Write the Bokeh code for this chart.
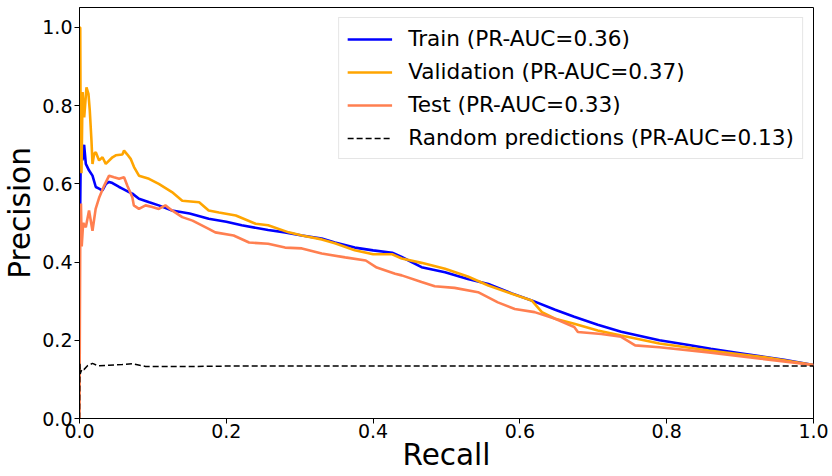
from bokeh.plotting import figure
from bokeh.models import Range1d, FixedTicker, Legend, LegendItem
from bokeh.embed import file_html
from bokeh.resources import INLINE

# ---------------- data ----------------
train_recall = [0.0, 0.001, 0.0018, 0.004, 0.0063, 0.0086, 0.0131, 0.0177, 0.0222, 0.0267,
                0.0313, 0.036, 0.0403, 0.0449, 0.054, 0.0584, 0.0675, 0.072, 0.081, 0.095,
                0.108, 0.126, 0.15, 0.176, 0.2, 0.221, 0.257, 0.28, 0.303, 0.33, 0.348,
                0.375, 0.40, 0.426, 0.439, 0.466, 0.498, 0.529, 0.557, 0.589, 0.616, 0.648,
                0.674, 0.706, 0.738, 0.79, 0.83, 0.86, 0.9, 0.928, 0.96, 1.0]
train_precision = [0.50, 0.55, 0.702, 0.66, 0.70, 0.651, 0.634, 0.621, 0.592, 0.588,
                   0.583, 0.60, 0.605, 0.602, 0.592, 0.588, 0.579, 0.575, 0.562, 0.553,
                   0.545, 0.532, 0.524, 0.511, 0.503, 0.494, 0.482, 0.476, 0.468, 0.46, 0.45,
                   0.437, 0.43, 0.424, 0.413, 0.387, 0.374, 0.357, 0.344, 0.32, 0.302, 0.278,
                   0.26, 0.24, 0.222, 0.2, 0.188, 0.178, 0.167, 0.159, 0.15, 0.137]

val_recall = [0.0, 0.001, 0.0015, 0.0027, 0.0042, 0.0064, 0.0095, 0.0122, 0.014, 0.0163,
              0.0177, 0.02, 0.0222, 0.0267, 0.0313, 0.0358, 0.0449, 0.0494, 0.0584, 0.0607,
              0.0652, 0.0697, 0.0743, 0.081, 0.0947, 0.108, 0.126, 0.14, 0.163, 0.176, 0.19,
              0.213, 0.24, 0.257, 0.285, 0.303, 0.33, 0.348, 0.375, 0.40, 0.426, 0.439,
              0.466, 0.498, 0.529, 0.557, 0.589, 0.616, 0.63, 0.648, 0.674, 0.706, 0.738,
              0.79, 0.857, 0.928, 1.0]
val_precision = [1.0, 1.0, 0.75, 0.627, 0.835, 0.77, 0.847, 0.83, 0.788, 0.711,
                 0.651, 0.677, 0.681, 0.66, 0.668, 0.651, 0.668, 0.673, 0.675, 0.685,
                 0.675, 0.664, 0.643, 0.621, 0.613, 0.60, 0.579, 0.557, 0.553, 0.532, 0.527,
                 0.519, 0.498, 0.494, 0.476, 0.468, 0.458, 0.448, 0.43, 0.42, 0.42, 0.409,
                 0.398, 0.383, 0.363, 0.34, 0.319, 0.302, 0.272, 0.255, 0.242, 0.225, 0.212,
                 0.192, 0.174, 0.158, 0.137]

test_recall = [0.0, 0.0005, 0.001, 0.002, 0.003, 0.005, 0.0086, 0.013, 0.0177, 0.022,
               0.027, 0.0335, 0.0403, 0.047, 0.054, 0.0607, 0.0652, 0.072, 0.074, 0.081,
               0.09, 0.0992, 0.108, 0.117, 0.126, 0.14, 0.154, 0.176, 0.185, 0.21, 0.231,
               0.257, 0.28, 0.303, 0.33, 0.362, 0.39, 0.405, 0.43, 0.439, 0.466, 0.484,
               0.511, 0.543, 0.57, 0.593, 0.62, 0.648, 0.674, 0.679, 0.711, 0.738, 0.757,
               0.79, 0.857, 0.928, 1.0]
test_precision = [0.0, 0.25, 0.45, 0.55, 0.44, 0.50, 0.489, 0.532, 0.48, 0.536,
                  0.566, 0.595, 0.621, 0.617, 0.613, 0.617, 0.595, 0.566, 0.545, 0.536,
                  0.545, 0.541, 0.536, 0.545, 0.532, 0.515, 0.506, 0.485, 0.476, 0.468, 0.45,
                  0.447, 0.437, 0.435, 0.422, 0.412, 0.404, 0.386, 0.37, 0.366, 0.349, 0.338,
                  0.334, 0.323, 0.297, 0.28, 0.272, 0.255, 0.234, 0.221, 0.216, 0.209, 0.187,
                  0.182, 0.169, 0.153, 0.137]

random_recall = [0.0, 0.0005, 0.001, 0.002, 0.004, 0.006, 0.0109, 0.0177, 0.025, 0.04,
                 0.0584, 0.072, 0.09, 0.11, 0.15, 0.2, 0.3, 0.5, 0.7, 0.9, 1.0]
random_precision = [0.0, 0.14, 0.114, 0.12, 0.127, 0.125, 0.135, 0.141, 0.135, 0.136,
                    0.138, 0.140, 0.133, 0.133, 0.133, 0.134, 0.134, 0.134, 0.134, 0.134, 0.134]

labels = ["Train (PR-AUC=0.36)", "Validation (PR-AUC=0.37)",
          "Test (PR-AUC=0.33)", "Random predictions (PR-AUC=0.13)"]
x_ticks = [0.0, 0.2, 0.4, 0.6, 0.8, 1.0]
y_ticks = [0.0, 0.2, 0.4, 0.6, 0.8, 1.0]
tick_text = ["0.0", "0.2", "0.4", "0.6", "0.8", "1.0"]

# ---------------- figure ----------------
FONT = "DejaVu Sans"
p = figure(width=832, height=476, output_backend="svg", toolbar_location=None,
           x_range=Range1d(0, 1.0), y_range=Range1d(0, 1.051),
           min_border_left=77, min_border_right=19, min_border_top=7, min_border_bottom=58)
p.grid.visible = False
p.outline_line_color = "black"
p.outline_line_width = 1

for ax, ticks in ((p.xaxis, x_ticks), (p.yaxis, y_ticks)):
    ax.ticker = FixedTicker(ticks=ticks)
    ax.major_label_overrides = {t: s for t, s in zip(ticks, tick_text)}
    ax.major_label_text_font = FONT
    ax.major_label_text_font_size = "19px"
    ax.major_label_text_color = "black"
    ax.axis_label_text_font = FONT
    ax.axis_label_text_font_size = "29.5px"
    ax.axis_label_text_font_style = "normal"
    ax.axis_label_text_color = "black"
    ax.major_tick_out = 5
    ax.major_tick_in = 0
    ax.minor_tick_out = 0
    ax.minor_tick_in = 0
    ax.axis_line_color = "black"
    ax.major_tick_line_color = "black"

p.xaxis.major_label_standoff = 0
p.xaxis.axis_label_standoff = -3
p.yaxis.major_label_standoff = 2
p.yaxis.axis_label_standoff = 2

p.xaxis.axis_label = "Recall"
p.yaxis.axis_label = "Precision"

r_train = p.line(train_recall, train_precision, line_color="#0000ff", line_width=2.6)
r_val = p.line(val_recall, val_precision, line_color="#ffa500", line_width=2.6)
r_test = p.line(test_recall, test_precision, line_color="#ff7f50", line_width=2.6)
r_rand = p.line(random_recall, random_precision, line_color="black", line_width=1.5,
                line_dash="6 3")

legend = Legend(items=[LegendItem(label=labels[0], renderers=[r_train]),
                       LegendItem(label=labels[1], renderers=[r_val]),
                       LegendItem(label=labels[2], renderers=[r_test]),
                       LegendItem(label=labels[3], renderers=[r_rand])],
                location="top_right")
legend.label_text_font = FONT
legend.label_text_font_size = "21.6px"
legend.label_text_color = "black"
legend.glyph_width = 45
legend.glyph_height = 20
legend.label_height = 20
legend.label_standoff = 16
legend.spacing = 8
legend.padding = 8
legend.margin = 10
legend.border_line_color = "#cccccc"
legend.border_line_width = 1
legend.background_fill_color = "white"
legend.background_fill_alpha = 0.8
p.add_layout(legend, "center")

open("out.html", "w").write(file_html(p, INLINE))
